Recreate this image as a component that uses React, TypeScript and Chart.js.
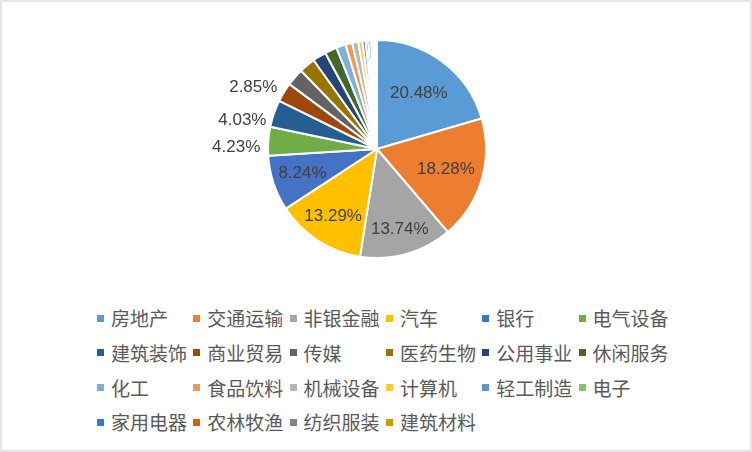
import { useEffect, useRef } from 'react';
import { Chart, registerables } from 'chart.js';

Chart.register(...registerables);

const categories = [
  '房地产', '交通运输', '非银金融', '汽车', '银行', '电气设备',
  '建筑装饰', '商业贸易', '传媒', '医药生物', '公用事业', '休闲服务',
  '化工', '食品饮料', '机械设备', '计算机', '轻工制造', '电子',
  '家用电器', '农林牧渔', '纺织服装', '建筑材料',
];

const values = [
  20.48, 18.28, 13.74, 13.29, 8.24, 4.23,
  4.03, 2.85, 2.6, 2.4, 2.0, 1.8,
  1.4, 1.0, 0.9, 0.6, 0.5, 0.4,
  0.4, 0.3, 0.3, 0.26,
];

const colors = [
  '#5B9BD5', '#ED7D31', '#A5A5A5', '#FFC000', '#4472C4', '#70AD47',
  '#255E91', '#9E480E', '#636363', '#997300', '#264478', '#43682B',
  '#7CAFDD', '#F1975A', '#B7B7B7', '#FFCD33', '#698ED0', '#8CC168',
  '#327DC2', '#D26012', '#848484', '#CC9A00',
];

// how far along the radius each inside label sits, and a small vertical
// nudge for the outside ones so they don't crowd (like Excel's best fit)
const insideRadius = [0.64, 0.66, 0.77, 0.74, 0.72];
const outsideNudge: Record<number, number> = { 5: 7, 6: 10, 7: 0 };

const sliceLabels = {
  id: 'sliceLabels',
  afterDatasetsDraw(chart: Chart) {
    const ctx = chart.ctx;
    const meta = chart.getDatasetMeta(0);
    ctx.save();
    ctx.font = '17px "Liberation Sans", Arial, sans-serif';
    ctx.fillStyle = '#404040';
    ctx.textBaseline = 'middle';
    meta.data.forEach((el: any, i: number) => {
      const v = values[i];
      if (v < 2.8) return;
      const { x, y, startAngle, endAngle, outerRadius } = el.getProps(
        ['x', 'y', 'startAngle', 'endAngle', 'outerRadius'], true);
      const mid = (startAngle + endAngle) / 2;
      const text = v.toFixed(2) + '%';
      if (v >= 8) {
        const r = outerRadius * (insideRadius[i] ?? 0.72);
        ctx.textAlign = 'center';
        ctx.fillText(text, x + Math.cos(mid) * r, y + Math.sin(mid) * r);
      } else {
        const r = outerRadius + 10;
        ctx.textAlign = 'right';
        ctx.fillText(text, x + Math.cos(mid) * r + 2, y + Math.sin(mid) * r + (outsideNudge[i] ?? 0));
      }
    });
    ctx.restore();
  },
};

export default function App() {
  const canvasRef = useRef<HTMLCanvasElement>(null);
  const chartRef = useRef<Chart | null>(null);

  useEffect(() => {
    document.body.style.margin = '0';
    if (!canvasRef.current) return;
    if (chartRef.current) chartRef.current.destroy();

    chartRef.current = new Chart(canvasRef.current, {
      type: 'pie',
      data: {
        labels: categories,
        datasets: [{
          data: values,
          backgroundColor: colors,
          borderColor: '#ffffff',
          borderWidth: 2,
        }],
      },
      options: {
        responsive: true,
        maintainAspectRatio: false,
        animation: false,
        layout: {
          padding: { top: 39, bottom: 41, left: 100, right: 98 },
        },
        plugins: {
          legend: { display: false },
          tooltip: { enabled: false },
        },
      },
      plugins: [sliceLabels],
    });

    return () => {
      if (chartRef.current) {
        chartRef.current.destroy();
        chartRef.current = null;
      }
    };
  }, []);

  return (
    <div style={{
      position: 'relative', width: 752, height: 452, boxSizing: 'border-box',
      background: '#fff', border: '2px solid #e4e4e4',
      fontFamily: '"Noto Sans CJK SC", sans-serif',
    }}>
      <div style={{ position: 'absolute', left: -2, top: -2, width: 752, height: 300 }}>
        <canvas ref={canvasRef} />
      </div>
      {categories.map((name, i) => {
        const col = i % 6;
        const row = Math.floor(i / 6);
        return (
          <div key={name} style={{
            position: 'absolute',
            left: 95 + col * 96.3,
            top: 318 - 2 - 14 + row * 34.8,
            height: 28, display: 'flex', alignItems: 'center',
            fontSize: 19, color: '#595959', whiteSpace: 'nowrap',
          }}>
            <span style={{ width: 7, height: 7, background: colors[i], marginRight: 7, display: 'inline-block' }} />
            <span style={{ lineHeight: '28px' }}>{name}</span>
          </div>
        );
      })}
    </div>
  );
}
